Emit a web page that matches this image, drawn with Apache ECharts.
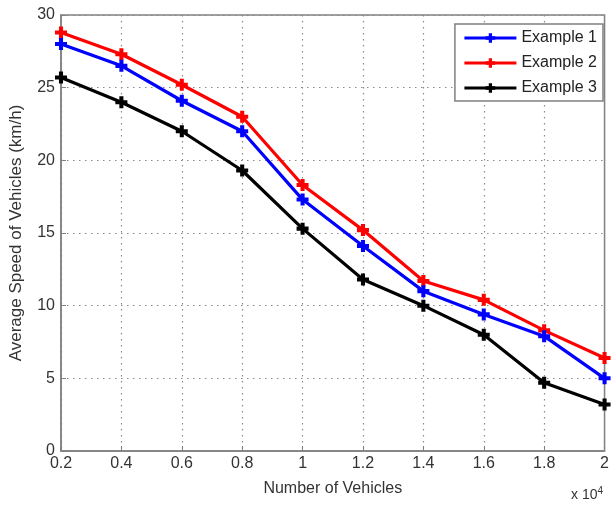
<!DOCTYPE html>
<html>
<head>
<meta charset="utf-8">
<script src="https://cdn.jsdelivr.net/npm/echarts@6/dist/echarts.min.js"></script>
<style>
  html, body { margin: 0; padding: 0; background: #fff; }
  #chart { width: 612px; height: 506px; }
</style>
</head>
<body>
<div id="chart"></div>
<script>
// number of vehicles (x 10^4)
var vehicles = [0.2, 0.4, 0.6, 0.8, 1.0, 1.2, 1.4, 1.6, 1.8, 2.0];
var example1 = [28.0, 26.5, 24.1, 22.0, 17.3, 14.1, 11.0, 9.4, 7.9, 5.0];
var example2 = [28.8, 27.3, 25.2, 23.0, 18.3, 15.2, 11.7, 10.4, 8.3, 6.4];
var example3 = [25.7, 24.0, 22.0, 19.3, 15.3, 11.8, 10.0, 8.0, 4.7, 3.2];
var seriesNames = ['Example 1', 'Example 2', 'Example 3'];
var seriesColors = ['#0000ff', '#ff0000', '#000000'];

// thick MATLAB-like "+" marker
var plusMark = 'path://M3.3,0 L6.7,0 L6.7,3.3 L10,3.3 L10,6.7 L6.7,6.7 L6.7,10 L3.3,10 L3.3,6.7 L0,6.7 L0,3.3 L3.3,3.3 Z';
var font = 'Liberation Sans, Arial, sans-serif';

function pairs(ys) {
  return vehicles.map(function (x, i) { return [x, ys[i]]; });
}

var chart = echarts.init(document.getElementById('chart'));

var gridDots = { show: true, lineStyle: { color: '#8a8a8a', type: [1.5, 4.5], width: 1.2 } };

var option = {
  animation: false,
  backgroundColor: '#fff',
  grid: { left: 58, right: 2, top: 15, bottom: 55, show: true, borderColor: '#808080', borderWidth: 1.5 },
  legend: {
    orient: 'vertical',
    right: 9,
    top: 24,
    itemWidth: 52,
    itemHeight: 12,
    itemGap: 9,
    padding: [6, 6, 5, 8],
    borderColor: '#808080',
    borderWidth: 1.5,
    backgroundColor: '#fff',
    lineStyle: { width: 3 },
    textStyle: { fontFamily: font, fontSize: 16, color: '#222' },
    data: seriesNames
  },
  xAxis: {
    type: 'value',
    min: 0.2,
    max: 2,
    interval: 0.2,
    name: 'Number of Vehicles',
    nameLocation: 'middle',
    nameGap: 30,
    nameTextStyle: { fontFamily: font, fontSize: 16, color: '#333' },
    axisLine: { lineStyle: { color: '#808080', width: 1.5 } },
    axisTick: { inside: true, length: 5, lineStyle: { color: '#808080' } },
    axisLabel: {
      fontFamily: font, fontSize: 16, color: '#333', margin: 5,
      formatter: function (v) { return String(Math.round(v * 10) / 10); }
    },
    splitLine: gridDots
  },
  yAxis: {
    type: 'value',
    min: 0,
    max: 30,
    interval: 5,
    name: 'Average Speed of Vehicles (km/h)',
    nameLocation: 'middle',
    nameGap: 36,
    nameTextStyle: { fontFamily: font, fontSize: 17, color: '#333' },
    axisLine: { show: true, lineStyle: { color: '#808080', width: 1.5 } },
    axisTick: { show: true, inside: true, length: 5, lineStyle: { color: '#808080' } },
    axisLabel: { fontFamily: font, fontSize: 16, color: '#333', margin: 6 },
    splitLine: gridDots
  },
  graphic: [{
    type: 'text',
    left: 571,
    top: 486,
    style: {
      text: 'x 10{s|4}',
      font: '14px ' + font,
      fill: '#333',
      rich: { s: { fontSize: 10, verticalAlign: 'top', padding: [0, 0, 8, 0], fill: '#333' } }
    }
  }],
  series: [example1, example2, example3].map(function (ys, i) {
    return {
      name: seriesNames[i],
      type: 'line',
      data: pairs(ys),
      symbol: plusMark,
      symbolSize: 12,
      color: seriesColors[i],
      itemStyle: { color: seriesColors[i] },
      lineStyle: { color: seriesColors[i], width: 3.2 },
      z: 3 - i
    };
  })
};

chart.setOption(option);
</script>
</body>
</html>
